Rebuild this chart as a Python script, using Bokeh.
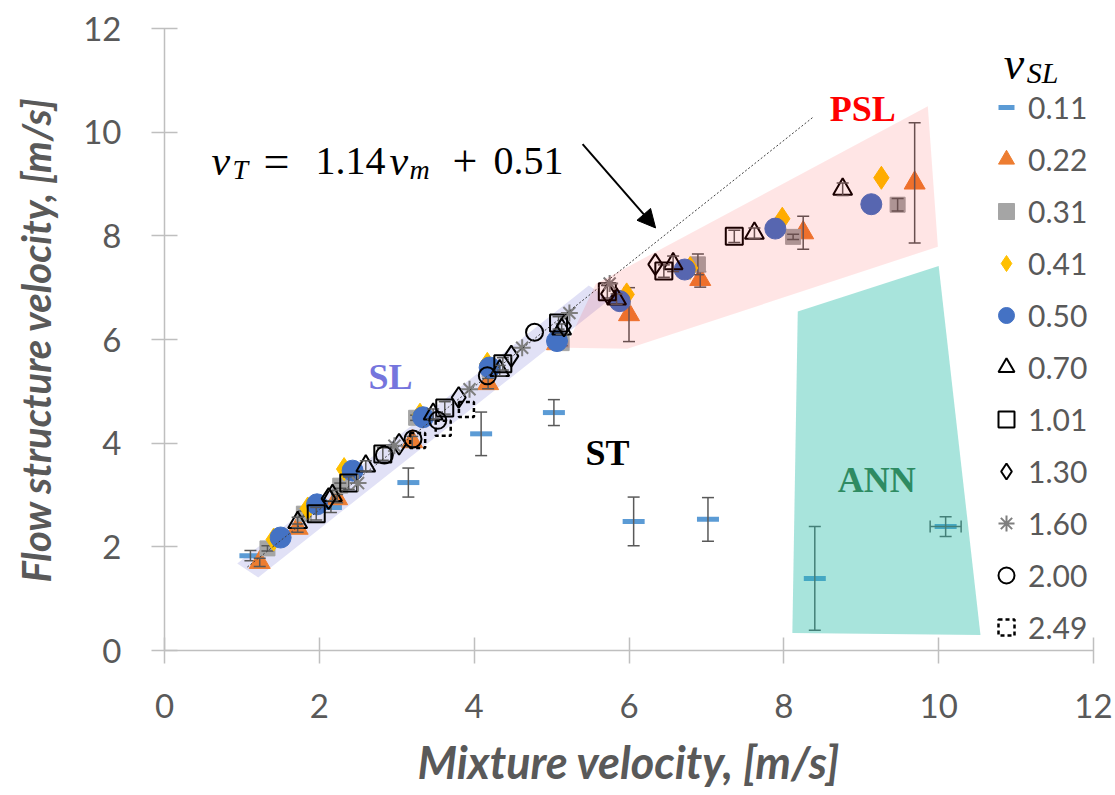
from bokeh.plotting import figure
from bokeh.models import Range1d, Legend, LegendItem, Arrow, NormalHead
from bokeh.core.properties import value
from bokeh.embed import file_html
from bokeh.resources import INLINE

# ---------------- data ----------------
x_ticks = [0, 2, 4, 6, 8, 10, 12]
y_ticks = [0, 2, 4, 6, 8, 10, 12]

s011_x = [1.11, 2.15, 3.15, 4.09, 5.03, 6.06, 7.02, 8.40, 10.09]
s011_y = [1.83, 2.76, 3.24, 4.18, 4.59, 2.49, 2.53, 1.39, 2.39]
s011_yerr = [0.10, 0.10, 0.28, 0.42, 0.25, 0.47, 0.42, 1.00, 0.19]
s011_xerr = [0, 0, 0, 0, 0, 0, 0, 0, 0.20]

s022_x = [1.23, 1.72, 2.23, 3.20, 4.18, 5.07, 6.00, 6.92, 8.25, 9.69]
s022_y = [1.70, 2.36, 2.93, 4.03, 5.15, 5.92, 6.48, 7.16, 8.06, 9.02]
s022_yerr = [0.08, 0.08, 0.08, 0.10, 0.10, 0.10, 0.52, 0.15, 0.32, 1.16]

s031_x = [1.33, 1.80, 2.27, 3.25, 4.20, 5.13, 5.92, 6.89, 8.12, 9.47]
s031_y = [1.97, 2.64, 3.18, 4.49, 5.42, 5.93, 6.80, 7.45, 7.98, 8.60]
s031_yerr = [0.05, 0.05, 0.05, 0.05, 0.05, 0.05, 0.10, 0.20, 0.05, 0.12]

s041_x = [1.41, 1.85, 2.32, 3.30, 4.17, 5.97, 6.79, 7.98, 9.26]
s041_y = [2.14, 2.74, 3.50, 4.55, 5.53, 6.87, 7.38, 8.33, 9.12]

s050_x = [1.50, 1.97, 2.43, 3.34, 4.20, 5.07, 5.88, 6.72, 7.89, 9.13]
s050_y = [2.18, 2.82, 3.47, 4.50, 5.46, 5.97, 6.74, 7.35, 8.14, 8.61]

s070_x = [1.72, 2.17, 2.60, 3.47, 4.33, 5.13, 5.84, 6.57, 7.62, 8.76]
s070_y = [2.47, 2.99, 3.56, 4.56, 5.40, 6.20, 6.78, 7.46, 8.05, 8.90]
s070_yerr = [0.10, 0.10, 0.10, 0.10, 0.10, 0.10, 0.10, 0.15, 0.10, 0.12]

s101_x = [1.96, 2.38, 2.82, 3.62, 4.37, 5.09, 5.72, 6.45, 7.36]
s101_y = [2.64, 3.23, 3.79, 4.68, 5.53, 6.32, 6.92, 7.32, 7.99]
s101_yerr = [0.12, 0.12, 0.12, 0.12, 0.12, 0.12, 0.12, 0.12, 0.12]

s130_x = [2.12, 3.03, 3.80, 4.48, 5.16, 5.73, 6.34]
s130_y = [2.93, 3.98, 4.88, 5.68, 6.26, 6.88, 7.45]

s160_x = [2.50, 2.97, 3.94, 4.62, 5.23, 5.75]
s160_y = [3.23, 3.95, 5.04, 5.84, 6.51, 7.08]

s200_x = [2.84, 3.21, 3.53, 4.17, 4.78]
s200_y = [3.77, 4.08, 4.44, 5.30, 6.14]

s249_x = [3.27, 3.60, 3.90]
s249_y = [4.05, 4.29, 4.65]

legend_labels = ["0.11", "0.22", "0.31", "0.41", "0.50", "0.70", "1.01", "1.30", "1.60", "2.00", "2.49"]

trend_x = [1.07, 8.37]
trend_y = [1.61, 10.28]

# flow-regime regions
sl_x = [0.94, 1.21, 5.75, 5.48]
sl_y = [1.68, 1.41, 6.77, 7.04]
psl_x = [5.57, 5.18, 5.98, 9.99, 9.86]
psl_y = [7.07, 5.84, 5.82, 7.79, 10.50]
ann_x = [8.18, 10.00, 10.54, 8.11]
ann_y = [6.54, 7.42, 0.30, 0.34]

# ---------------- figure ----------------
p = figure(width=1115, height=795, x_range=Range1d(0, 12), y_range=Range1d(0, 12),
           output_backend="svg", toolbar_location=None,
           min_border_left=164, min_border_right=22, min_border_top=28, min_border_bottom=145)
p.xgrid.visible = False
p.ygrid.visible = False
p.outline_line_color = None
p.xaxis.ticker = x_ticks
p.yaxis.ticker = y_ticks
for ax in (p.xaxis[0], p.yaxis[0]):
    ax.axis_line_color = "#bfbfbf"
    ax.axis_line_width = 1.5
    ax.major_tick_line_color = "#bfbfbf"
    ax.major_tick_line_width = 1.5
    ax.major_tick_in = 13
    ax.major_tick_out = 13
    ax.minor_tick_line_color = None
    ax.major_label_text_font = "Lato"
    ax.major_label_text_font_size = "33px"
    ax.major_label_text_color = "#595959"
    ax.axis_label_text_font = "Lato"
    ax.axis_label_text_font_style = "bold italic"
    ax.axis_label_text_color = "#595959"
p.xaxis.axis_label = "Mixture velocity, [m/s]"
p.yaxis.axis_label = "Flow structure velocity, [m/s]"
p.xaxis.axis_label_text_font_size = "45px"
p.yaxis.axis_label_text_font_size = "40px"
p.xaxis.major_label_standoff = 30
p.yaxis.major_label_standoff = 30
p.xaxis.axis_label_standoff = 14
p.yaxis.axis_label_standoff = 20

# SL band underneath
p.patch(sl_x, sl_y, fill_color="#e1e1f6", line_color=None)

ERR = "#595959"


def yerrbars(xs, ys, errs):
    lo = [y - e for y, e in zip(ys, errs)]
    hi = [y + e for y, e in zip(ys, errs)]
    p.segment(xs, lo, xs, hi, line_color=ERR, line_width=1.5)
    p.scatter(xs + xs, lo + hi, marker="dash", size=12, line_color=ERR, line_width=1.5)


def xerrbars(xs, ys, errs):
    sel = [(x, y, e) for x, y, e in zip(xs, ys, errs) if e > 0]
    yy = [s[1] for s in sel]
    lo = [s[0] - s[2] for s in sel]
    hi = [s[0] + s[2] for s in sel]
    p.segment(lo, yy, hi, yy, line_color=ERR, line_width=1.5)
    p.scatter(lo + hi, yy + yy, marker="dash", angle=1.5708, size=12, line_color=ERR, line_width=1.5)


renderers = []
r = p.scatter(s011_x, s011_y, marker="dash", size=22, line_color="#5B9BD5", line_width=5)
renderers.append(r)
yerrbars(s011_x, s011_y, s011_yerr)
xerrbars(s011_x, s011_y, s011_xerr)

r = p.scatter(s022_x, s022_y, marker="triangle", size=21, fill_color="#ED7D31", line_color="#ED7D31")
renderers.append(r)
yerrbars(s022_x, s022_y, s022_yerr)

r = p.scatter(s031_x, s031_y, marker="square", size=15, fill_color="#A5A5A5", line_color="#A5A5A5")
renderers.append(r)
yerrbars(s031_x, s031_y, s031_yerr)

r = p.scatter(s041_x, s041_y, marker="diamond", size=23, fill_color="#FFC000", line_color="#FFC000")
renderers.append(r)

r = p.scatter(s050_x, s050_y, marker="circle", size=21, fill_color="#4472C4", line_color="#4472C4")
renderers.append(r)

r = p.scatter(s070_x, s070_y, marker="triangle", size=19, fill_color=None, line_color="black", line_width=2)
renderers.append(r)
yerrbars(s070_x, s070_y, s070_yerr)

r = p.scatter(s101_x, s101_y, marker="square", size=17, fill_color=None, line_color="black", line_width=2)
renderers.append(r)
yerrbars(s101_x, s101_y, s101_yerr)

r = p.scatter(s130_x, s130_y, marker="diamond", size=21, fill_color=None, line_color="black", line_width=2)
renderers.append(r)

r = p.scatter(s160_x, s160_y, marker="asterisk", size=17, line_color="#7f7f7f", line_width=2)
renderers.append(r)

r = p.scatter(s200_x, s200_y, marker="circle", size=17, fill_color=None, line_color="black", line_width=2)
renderers.append(r)

r = p.scatter(s249_x, s249_y, marker="square", size=15, fill_color=None, line_color="black",
              line_width=2.5, line_dash="4 3")
renderers.append(r)

# trend line
p.line(trend_x, trend_y, line_color="#404040", line_width=1, line_dash="2 2")

# overlay regions
p.patch(psl_x, psl_y, fill_color="#ff0000", fill_alpha=0.1, line_color=None)
p.patch(ann_x, ann_y, fill_color="#25bba7", fill_alpha=0.4, line_color=None)

# legend
items = [LegendItem(label=lab, renderers=[rr]) for lab, rr in zip(legend_labels, renderers)]
legend = Legend(items=items, location=(822, 0), orientation="vertical",
                background_fill_alpha=0, border_line_color=None,
                glyph_width=40, glyph_height=46, label_standoff=2, spacing=6,
                padding=0, margin=0, label_height=40,
                label_text_font="Lato", label_text_font_size="30px", label_text_color="#595959")
p.add_layout(legend)


def px2x(px):
    return (px - 164) / 77.4


def px2y(py):
    return (650.5 - py) / 51.95


def txt(px, py, s, size, color="black", style="normal", font="Liberation Serif",
        align="left", baseline="alphabetic"):
    p.text(x=[px2x(px)], y=[px2y(py)], text=[s], text_font=value(font), text_font_size=size,
           text_font_style=style, text_color=color, text_align=align, text_baseline=baseline)


# region labels
txt(862, 108, "PSL", "36px", color="#ff0000", style="bold", align="center", baseline="middle")
txt(390, 376, "SL", "36px", color="#7575dd", style="bold", align="center", baseline="middle")
txt(607, 453, "ST", "36px", color="black", style="bold", align="center", baseline="middle")
txt(876, 480, "ANN", "36px", color="#2e8b62", style="bold", align="center", baseline="middle")

# equation v_T = 1.14 v_m + 0.51
txt(211, 160, "v", "42px", style="italic")
txt(232, 168, "T", "28px", style="italic")
txt(263, 160, "=", "46px")
txt(315, 160, "1.14", "40px")
txt(389, 160, "v", "42px", style="italic")
txt(409, 168, "m", "28px", style="italic")
txt(452, 160, "+", "44px")
txt(493, 160, "0.51", "40px")

# legend title v_SL
txt(1003, 62, "v", "46px", style="italic")
txt(1026, 71, "SL", "30px", style="italic")

# arrow
p.add_layout(Arrow(end=NormalHead(size=18, fill_color="black", line_color="black"),
                   x_start=px2x(582), y_start=px2y(143), x_end=px2x(655), y_end=px2y(227),
                   line_color="black", line_width=2))

open("out.html", "w").write(file_html(p, INLINE))
